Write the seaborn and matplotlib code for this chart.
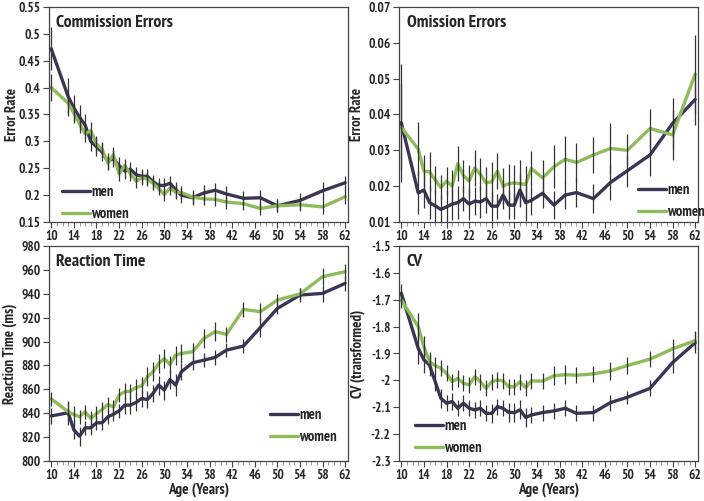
import seaborn as sb
import pandas as pd
import matplotlib.pyplot as plt
from matplotlib.ticker import FixedLocator, MultipleLocator

ages = [10, 13, 14, 15, 16, 17, 18, 19, 20, 21, 22, 23, 24, 25, 26, 27,
        28, 29, 30, 31, 32, 33, 35, 37, 39, 41, 44, 47, 50, 54, 58, 62]

# commission errors
comm_men = [0.472, 0.383, 0.362, 0.345, 0.330, 0.300, 0.290, 0.280, 0.263, 0.268, 0.255, 0.245, 0.248, 0.238, 0.235, 0.235,
            0.225, 0.218, 0.218, 0.222, 0.210, 0.200, 0.195, 0.204, 0.209, 0.202, 0.194, 0.195, 0.180, 0.190, 0.208, 0.223]
comm_women = [0.400, 0.371, 0.352, 0.333, 0.314, 0.320, 0.295, 0.285, 0.260, 0.275, 0.240, 0.255, 0.240, 0.226, 0.232, 0.230,
              0.222, 0.212, 0.201, 0.213, 0.205, 0.205, 0.196, 0.193, 0.192, 0.187, 0.184, 0.175, 0.180, 0.182, 0.178, 0.197]
comm_men_err = [0.040, 0.035, 0.025, 0.022, 0.020, 0.018, 0.018, 0.016, 0.015, 0.015, 0.015, 0.015, 0.014, 0.014, 0.014, 0.014,
                0.013, 0.013, 0.013, 0.014, 0.015, 0.014, 0.014, 0.015, 0.013, 0.014, 0.013, 0.015, 0.012, 0.014, 0.017, 0.013]
comm_women_err = [0.025, 0.020, 0.018, 0.017, 0.016, 0.016, 0.015, 0.014, 0.013, 0.014, 0.014, 0.013, 0.013, 0.013, 0.013, 0.013,
                  0.012, 0.012, 0.012, 0.013, 0.013, 0.012, 0.012, 0.012, 0.012, 0.012, 0.012, 0.012, 0.012, 0.012, 0.014, 0.014]

# omission errors
omi_men = [0.0377, 0.0181, 0.0189, 0.0154, 0.0145, 0.0135, 0.0142, 0.0150, 0.0154, 0.0165, 0.0150, 0.0158, 0.0156, 0.0165, 0.0144, 0.0144,
           0.0175, 0.0147, 0.0147, 0.0189, 0.0154, 0.0160, 0.0180, 0.0147, 0.0175, 0.0182, 0.0165, 0.0210, 0.0243, 0.0287, 0.0375, 0.0442]
omi_women = [0.0364, 0.0303, 0.0242, 0.0240, 0.0217, 0.0196, 0.0214, 0.0200, 0.0263, 0.0229, 0.0214, 0.0251, 0.0233, 0.0209, 0.0212, 0.0242,
             0.0200, 0.0207, 0.0209, 0.0207, 0.0205, 0.0249, 0.0223, 0.0254, 0.0275, 0.0266, 0.0287, 0.0305, 0.0300, 0.0361, 0.0343, 0.0513]
omi_men_err = [0.0165, 0.0060, 0.0050, 0.0045, 0.0045, 0.0040, 0.0045, 0.0045, 0.0045, 0.0035, 0.0045, 0.0040, 0.0045, 0.0040, 0.0040, 0.0035,
               0.0040, 0.0040, 0.0040, 0.0045, 0.0050, 0.0040, 0.0040, 0.0040, 0.0040, 0.0040, 0.0040, 0.0050, 0.0045, 0.0060, 0.0070, 0.0070]
omi_women_err = [0.0120, 0.0075, 0.0045, 0.0055, 0.0040, 0.0035, 0.0040, 0.0045, 0.0050, 0.0045, 0.0045, 0.0050, 0.0045, 0.0045, 0.0055, 0.0050,
                 0.0050, 0.0055, 0.0050, 0.0065, 0.0050, 0.0050, 0.0050, 0.0060, 0.0065, 0.0055, 0.0050, 0.0070, 0.0045, 0.0055, 0.0070, 0.0110]

# reaction time
rt_men = [837.7, 840.3, 826.0, 820.7, 827.7, 827.7, 831.9, 831.9, 836.9, 839.1, 842.0, 846.7, 846.7, 849.0, 852.3, 851.4,
          856.5, 863.5, 859.3, 868.2, 863.5, 874.6, 882.2, 884.4, 886.7, 892.8, 896.2, 911.8, 927.7, 938.9, 940.3, 948.7]
rt_women = [852.0, 841.1, 838.9, 836.9, 841.1, 835.5, 839.7, 843.1, 847.2, 845.3, 855.1, 857.9, 858.4, 861.5, 862.9, 870.4,
            874.6, 881.6, 885.8, 880.8, 888.6, 890.0, 891.4, 902.6, 908.2, 906.0, 926.9, 925.0, 934.7, 939.8, 954.3, 958.5]
rt_men_err = [7, 10, 8, 8, 6, 6, 6, 6, 6, 6, 6, 7, 7, 7, 7, 7,
              7, 8, 8, 8, 9, 7, 6, 6, 6, 6, 6, 8, 5, 6, 7, 6]
rt_women_err = [6, 8, 7, 6, 6, 6, 6, 6, 6, 6, 6, 7, 6, 7, 7, 8,
                8, 8, 8, 7, 8, 8, 7, 8, 8, 6, 6, 7, 5, 5, 7, 6]

# coefficient of variation
cv_men = [-1.676, -1.881, -1.924, -1.943, -2.005, -2.067, -2.085, -2.079, -2.104, -2.085, -2.104, -2.110, -2.104, -2.123, -2.123, -2.098,
          -2.104, -2.119, -2.120, -2.110, -2.138, -2.129, -2.120, -2.114, -2.104, -2.123, -2.120, -2.083, -2.063, -2.030, -1.934, -1.860]
cv_women = [-1.701, -1.800, -1.875, -1.931, -1.945, -1.955, -1.974, -2.005, -1.993, -2.011, -2.017, -1.986, -2.005, -2.030, -2.005, -1.999,
            -2.002, -2.024, -2.024, -2.005, -2.027, -2.002, -2.003, -1.983, -1.979, -1.981, -1.976, -1.965, -1.945, -1.921, -1.883, -1.852]
cv_men_err = [0.035, 0.060, 0.050, 0.040, 0.035, 0.035, 0.030, 0.030, 0.030, 0.030, 0.030, 0.030, 0.030, 0.030, 0.035, 0.030,
              0.030, 0.035, 0.035, 0.035, 0.035, 0.030, 0.030, 0.030, 0.030, 0.030, 0.030, 0.030, 0.025, 0.030, 0.040, 0.040]
cv_women_err = [0.030, 0.050, 0.040, 0.035, 0.030, 0.030, 0.030, 0.030, 0.030, 0.030, 0.030, 0.030, 0.030, 0.030, 0.030, 0.030,
                0.030, 0.030, 0.030, 0.030, 0.030, 0.030, 0.030, 0.035, 0.035, 0.030, 0.030, 0.035, 0.030, 0.030, 0.035, 0.035]

xticks = list(range(10, 63, 4))

MEN = '#3c3556'
WOMEN = '#8fbc5a'
BAR = '#333333'

sb.set_theme(style='white')
plt.rcParams['font.family'] = ['PT Sans Narrow', 'Archivo Narrow', 'Roboto Condensed',
                               'Liberation Sans Narrow', 'DejaVu Sans']
plt.rcParams['font.weight'] = 'bold'


def panel(ax, men, women, men_err, women_err, title, ylabel, ylim, ystep,
          leg_anchor, ylab_x, xlabel=None):
    df = pd.DataFrame({'age': ages * 2,
                       'value': men + women,
                       'sex': ['men'] * len(ages) + ['women'] * len(ages)})
    sb.lineplot(data=df, x='age', y='value', hue='sex',
                palette={'men': MEN, 'women': WOMEN}, linewidth=2.4, ax=ax, zorder=2)
    ax.errorbar(ages, men, yerr=men_err, fmt='none', ecolor=BAR, elinewidth=0.9, zorder=3)
    ax.errorbar(ages, women, yerr=women_err, fmt='none', ecolor=BAR, elinewidth=0.9, zorder=3)

    ax.set_xlim(9.6, 62.5)
    ax.set_ylim(*ylim)
    ax.xaxis.set_major_locator(FixedLocator(xticks))
    ax.xaxis.set_minor_locator(MultipleLocator(1))
    yt = []
    v = ylim[0]
    while v <= ylim[1] + ystep / 2:
        yt.append(round(v, 4))
        v += ystep
    ax.yaxis.set_major_locator(FixedLocator(yt))
    ax.set_yticklabels(['{:g}'.format(t) for t in yt])
    ax.set_xticklabels([str(t) for t in xticks])
    ax.tick_params(axis='both', which='major', direction='out', length=4, width=0.8,
                   color='#444444', labelsize=9.6, pad=2, bottom=True, left=True)
    ax.tick_params(axis='x', which='minor', direction='out', length=3, width=0.6,
                   color='#888888', bottom=True)
    for lab in ax.get_xticklabels() + ax.get_yticklabels():
        lab.set_fontweight('bold')
    for sp in ax.spines.values():
        sp.set_color('#444444')
        sp.set_linewidth(0.9)

    ax.set_xlabel(xlabel if xlabel else '', fontsize=11, fontweight='bold', labelpad=0)
    ax.set_ylabel(ylabel, fontsize=10.6, fontweight='bold')
    ax.yaxis.set_label_coords(ylab_x, 0.5)
    ax.text(0.025, 0.925, title, transform=ax.transAxes, ha='left', va='center',
            fontsize=12.8, fontweight='bold')

    leg = ax.legend(loc='lower left', bbox_to_anchor=leg_anchor, frameon=False,
                    handlelength=1.9, handletextpad=0.1, labelspacing=0.55,
                    borderaxespad=0, prop={'size': 10.5, 'weight': 'bold'})
    for h in leg.get_lines():
        h.set_linewidth(2.4)


fig = plt.figure(figsize=(7.04, 5.01), dpi=100)
ax1 = fig.add_axes([0.0696, 0.557, 0.4247, 0.429])
ax2 = fig.add_axes([0.5668, 0.557, 0.4247, 0.429])
ax3 = fig.add_axes([0.0696, 0.080, 0.4247, 0.429])
ax4 = fig.add_axes([0.5668, 0.080, 0.4247, 0.429])

panel(ax1, comm_men, comm_women, comm_men_err, comm_women_err,
      'Commission Errors', 'Error Rate', (0.15, 0.55), 0.05, (0.025, -0.025), -0.1)
panel(ax2, omi_men, omi_women, omi_men_err, omi_women_err,
      'Omission Errors', 'Error Rate', (0.01, 0.07), 0.01, (0.78, -0.015), -0.117)
panel(ax3, rt_men, rt_women, rt_men_err, rt_women_err,
      'Reaction Time', 'Reaction Time (ms)', (800, 980), 20, (0.72, 0.05), -0.108,
      xlabel='Age (Years)')
panel(ax4, cv_men, cv_women, cv_men_err, cv_women_err,
      'CV', 'CV (transformed)', (-2.3, -1.5), 0.1, (0.035, 0.0), -0.114,
      xlabel='Age (Years)')

fig.savefig('out.png', dpi=100)
